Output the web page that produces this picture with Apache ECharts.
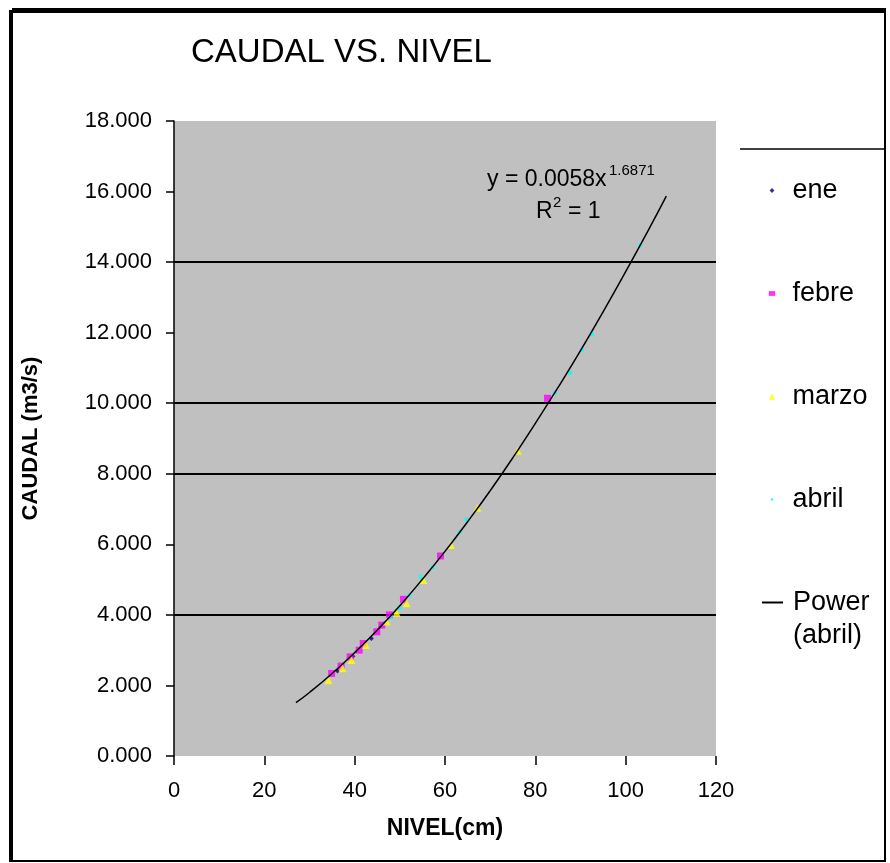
<!DOCTYPE html>
<html>
<head>
<meta charset="utf-8">
<script src="https://cdn.jsdelivr.net/npm/echarts@6/dist/echarts.min.js"></script>
<style>
html,body{margin:0;padding:0;background:#fff;}
#chart{width:890px;height:863px;}
</style>
</head>
<body>
<div id="chart"></div>
<script>
// ---- data ----
const xTicks = [0, 20, 40, 60, 80, 100, 120];
const yTicks = [0, 2, 4, 6, 8, 10, 12, 14, 16, 18];
const gridValues = [4, 8, 10, 14];

const eneX = [43.7, 39.6, 36.2];
const eneY = [3.33, 2.83, 2.41];

const febreX = [82.7, 59.0, 50.8, 47.7, 46.0, 44.9, 41.9, 41.0, 39.0, 37.0, 34.9];
const febreY = [10.14, 5.67, 4.44, 4.00, 3.71, 3.52, 3.19, 3.00, 2.81, 2.55, 2.34];

const marzoX = [76.1, 67.2, 61.3, 55.2, 51.5, 49.3, 47.1, 42.5, 39.3, 37.3, 34.2];
const marzoY = [8.65, 7.04, 5.98, 4.99, 4.33, 4.06, 3.81, 3.15, 2.72, 2.49, 2.15];

const abrilX = [103.2, 92.5, 90.3, 87.7, 84.3, 64.8, 63.2, 57.3, 54.6, 52.1, 49.9, 48.0];
const abrilY = [14.48, 11.96, 11.51, 10.86, 10.29, 6.71, 6.34, 5.35, 5.08, 4.56, 4.19, 3.93];

// power trendline
const trendX = [27, 30, 35, 40, 45, 50, 55, 60, 65, 70, 75, 80, 85, 90, 95, 100, 105, 109];
const trendY = [1.51, 1.80, 2.34, 2.93, 3.57, 4.26, 5.01, 5.80, 6.64, 7.52, 8.45, 9.43, 10.44, 11.49, 12.59, 13.73, 14.90, 15.87];

const seriesNames = ['ene', 'febre', 'marzo', 'abril', 'Power (abril)'];
const titleText = 'CAUDAL VS. NIVEL';
const xName = 'NIVEL(cm)';
const yName = 'CAUDAL (m3/s)';
const eqMain = 'y = 0.0058x';
const eqExp = '1.6871';
const r2Base = 'R';
const r2Exp = '2';
const r2Val = '= 1';

// ---- build ----
const FONT = '"Liberation Sans", Arial, sans-serif';
const pairs = (xs, ys) => xs.map((x, i) => [x, ys[i]]);
const gridColors = yTicks.map(v => gridValues.indexOf(v) >= 0 ? '#000000' : 'rgba(0,0,0,0)');
const legendText = {fontFamily: FONT, fontSize: 27, lineHeight: 26, color: '#000', padding: [0, 0, 0, 5]};

const chart = echarts.init(document.getElementById('chart'), null, {renderer: 'canvas'});
chart.setOption({
  backgroundColor: '#ffffff',
  animation: false,
  textStyle: {fontFamily: FONT},
  title: {
    text: titleText,
    left: 186, top: 31,
    textStyle: {fontFamily: FONT, fontSize: 33, fontWeight: 'normal', color: '#000'}
  },
  grid: {left: 174, right: 174, top: 121, bottom: 107, show: true, backgroundColor: '#c0c0c0', borderWidth: 0},
  xAxis: {
    type: 'value', min: xTicks[0], max: xTicks[xTicks.length - 1], interval: 20,
    name: xName, nameLocation: 'middle', nameGap: 61,
    nameTextStyle: {fontFamily: FONT, fontSize: 23, fontWeight: 'bold', color: '#000'},
    axisLine: {show: false},
    axisTick: {show: true, length: 9, lineStyle: {color: '#000', width: 1.5}},
    axisLabel: {margin: 24, fontFamily: FONT, fontSize: 22, color: '#000'},
    splitLine: {show: false}
  },
  yAxis: {
    type: 'value', min: yTicks[0], max: yTicks[yTicks.length - 1], interval: 2,
    name: yName, nameLocation: 'middle', nameGap: 132, nameRotate: 90,
    nameTextStyle: {fontFamily: FONT, fontSize: 22, fontWeight: 'bold', color: '#000'},
    axisLine: {show: true, lineStyle: {color: '#000', width: 1.5}},
    axisTick: {show: true, length: 8, lineStyle: {color: '#000', width: 1.5}},
    axisLabel: {margin: 22, fontFamily: FONT, fontSize: 22, color: '#000', formatter: v => v.toFixed(3)},
    splitLine: {show: true, lineStyle: {color: gridColors, width: 2}}
  },
  legend: [{
    data: [
      {name: seriesNames[0], icon: 'path://M0,0M10,10M5,2L8,5L5,8L2,5Z'},
      {name: seriesNames[1], icon: 'path://M0,0M10,10M1,2L9,2L9,8L1,8Z'},
      {name: seriesNames[2], icon: 'path://M0,0M10,10M5,1L9,9L1,9Z'},
      {name: seriesNames[3], icon: 'path://M0,0M10,10M3.5,3.5L6.5,3.5L6.5,6.5L3.5,6.5Z'}
    ],
    orient: 'vertical', left: 763, top: 172,
    itemWidth: 21, itemHeight: 8, itemGap: 76,
    textStyle: legendText
  }, {
    data: [{name: seriesNames[4], icon: 'rect'}],
    orient: 'vertical', left: 757, top: 584,
    itemWidth: 21, itemHeight: 2,
    formatter: n => n.split(' ')[0],
    textStyle: legendText
  }],
  graphic: [
    {type: 'rect', shape: {x: 12, y: 12, width: 873, height: 849}, style: {fill: 'none', stroke: '#000', lineWidth: 2}, silent: true},
    {type: 'line', shape: {x1: 12, y1: 10, x2: 886, y2: 10}, style: {stroke: '#000', lineWidth: 4}, silent: true},
    {type: 'line', shape: {x1: 11, y1: 10, x2: 11, y2: 862}, style: {stroke: '#000', lineWidth: 4}, silent: true},
    {type: 'line', shape: {x1: 740, y1: 149, x2: 885, y2: 149}, style: {stroke: '#000', lineWidth: 1.5}, silent: true},
    {type: 'text', silent: true, style: {x: 793, y: 636, text: '(abril)', font: '27px ' + FONT, fill: '#000', verticalAlign: 'middle', align: 'left'}},
    {type: 'text', silent: true, style: {x: 487, y: 180, text: eqMain, font: '23px ' + FONT, fill: '#000', verticalAlign: 'middle', align: 'left'}},
    {type: 'text', silent: true, style: {x: 609, y: 171, text: eqExp, font: '15px ' + FONT, fill: '#000', verticalAlign: 'middle', align: 'left'}},
    {type: 'text', silent: true, style: {x: 536, y: 212, text: r2Base, font: '23px ' + FONT, fill: '#000', verticalAlign: 'middle', align: 'left'}},
    {type: 'text', silent: true, style: {x: 553, y: 203, text: r2Exp, font: '15px ' + FONT, fill: '#000', verticalAlign: 'middle', align: 'left'}},
    {type: 'text', silent: true, style: {x: 568, y: 212, text: r2Val, font: '23px ' + FONT, fill: '#000', verticalAlign: 'middle', align: 'left'}}
  ],
  series: [
    {name: seriesNames[0], type: 'scatter', data: pairs(eneX, eneY), symbol: 'diamond', symbolSize: 5, itemStyle: {color: '#000080'}},
    {name: seriesNames[1], type: 'scatter', data: pairs(febreX, febreY), symbol: 'rect', symbolSize: 7, itemStyle: {color: '#ff00ff'}},
    {name: seriesNames[2], type: 'scatter', data: pairs(marzoX, marzoY), symbol: 'triangle', symbolSize: 8, itemStyle: {color: '#ffff00'}},
    {name: seriesNames[3], type: 'scatter', data: pairs(abrilX, abrilY), symbol: 'rect', symbolSize: 4, itemStyle: {color: '#00ffff'}},
    {name: seriesNames[4], type: 'line', data: pairs(trendX, trendY), smooth: true, showSymbol: false, symbol: 'none',
      lineStyle: {color: '#000', width: 1.5}, itemStyle: {color: '#000'}, z: 3}
  ]
});
</script>
</body>
</html>
